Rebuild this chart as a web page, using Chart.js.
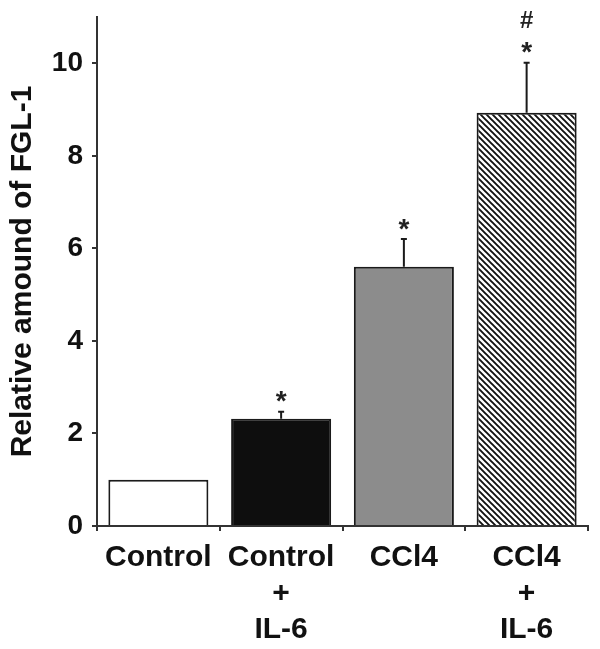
<!DOCTYPE html>
<html>
<head>
<meta charset="utf-8">
<script src="https://cdn.jsdelivr.net/npm/chart.js@4/dist/chart.umd.min.js"></script>
<style>
  html, body { margin: 0; padding: 0; background: #fff; }
</style>
</head>
<body>
<canvas id="chart" width="600" height="649"></canvas>
<script>
/* ---- Данные графика ---- */
const CATEGORIES = [["Control"], ["Control", "+", "IL-6"], ["CCl4"], ["CCl4", "+", "IL-6"]];
const VALUES     = [1.0, 2.32, 5.6, 8.93];
const ERRORS     = [0, 0.15, 0.6, 1.08];
const STARS      = ["", "*", "*", "*"];
const HASHES     = ["", "", "", "#"];
const Y_TICKS    = [0, 2, 4, 6, 8, 10];
const Y_TITLE    = "Relative amound of FGL-1";

const FONT = "'Liberation Sans', Arial, sans-serif";
const INK  = "#1a1a1a";

// штриховка "\\\\" для последнего столбца
function hatchPattern() {
  const p = 6;
  const c = document.createElement("canvas");
  c.width = p; c.height = p;
  const g = c.getContext("2d");
  g.fillStyle = "#fff";
  g.fillRect(0, 0, p, p);
  g.strokeStyle = "#111";
  g.lineWidth = 1.9;
  g.beginPath();
  g.moveTo(-1, -1); g.lineTo(p + 1, p + 1);
  g.moveTo(-1, p - 1); g.lineTo(1, p + 1);
  g.moveTo(p - 1, -1); g.lineTo(p + 1, 1);
  g.stroke();
  return g.createPattern(c, "repeat");
}

const canvas = document.getElementById("chart");
const FILLS = ["#ffffff", "#0e0e0e", "#8c8c8c", hatchPattern()];

// метка по центру (cx, cy) по реальным границам глифа
function centeredText(ctx, txt, cx, cy) {
  const m = ctx.measureText(txt);
  ctx.fillText(txt, cx, cy + (m.actualBoundingBoxAscent - m.actualBoundingBoxDescent) / 2);
}

/* ---- Планки погрешностей и значки значимости ---- */
const errorBars = {
  id: "errorBars",
  afterDatasetsDraw(chart) {
    const ctx = chart.ctx;
    const y = chart.scales.y;
    const meta = chart.getDatasetMeta(0);
    ctx.save();
    meta.data.forEach((bar, i) => {
      const top = y.getPixelForValue(VALUES[i] + ERRORS[i]);
      if (ERRORS[i] > 0) {
        ctx.strokeStyle = INK;
        ctx.lineWidth = 2;
        ctx.beginPath();
        ctx.moveTo(bar.x, bar.y);
        ctx.lineTo(bar.x, top);
        ctx.moveTo(bar.x - 3, top);
        ctx.lineTo(bar.x + 3, top);
        ctx.stroke();
      }
      ctx.fillStyle = "#222";
      ctx.textAlign = "center";
      ctx.textBaseline = "alphabetic";
      if (STARS[i]) {
        ctx.font = "bold 28px " + FONT;
        centeredText(ctx, STARS[i], bar.x, top - 15);
      }
      if (HASHES[i]) {
        ctx.font = "bold 24px " + FONT;
        centeredText(ctx, HASHES[i], bar.x, top - 43);
      }
    });
    ctx.restore();
  }
};

new Chart(canvas, {
  type: "bar",
  data: {
    labels: CATEGORIES,
    datasets: [{
      data: VALUES,
      backgroundColor: FILLS,
      borderColor: INK,
      borderWidth: 2,
      borderSkipped: "start",
      barPercentage: 0.815,
      categoryPercentage: 1
    }]
  },
  options: {
    responsive: false,
    animation: false,
    layout: { padding: { top: 17, right: 12, left: 0, bottom: 0 } },
    plugins: { legend: { display: false }, tooltip: { enabled: false } },
    scales: {
      x: {
        grid: { drawOnChartArea: false, drawTicks: true, tickLength: 5, offset: true, color: "#333", lineWidth: 2 },
        border: { color: "#333", width: 2 },
        ticks: {
          color: "#111", padding: 9, maxRotation: 0, autoSkip: false,
          font: { family: FONT, size: 30, weight: "bold", lineHeight: 1.2 }
        },
        afterFit(s) { s.height = 123; s.paddingLeft = 0; s.paddingRight = 0; }
      },
      y: {
        min: 0, max: 11,
        afterBuildTicks(s) { s.ticks = Y_TICKS.map(v => ({ value: v })); },
        grid: { drawOnChartArea: false, tickLength: 5, color: "#333", lineWidth: 2 },
        border: { color: "#333", width: 2 },
        ticks: { color: "#111", padding: 9, font: { family: FONT, size: 28, weight: "bold" } },
        title: {
          display: true, text: Y_TITLE, color: "#111",
          padding: { top: 5, bottom: 0 },
          font: { family: FONT, size: 30, weight: "bold", lineHeight: 1.2 }
        },
        afterFit(s) { s.width = 97; s.paddingTop = 0; s.paddingBottom = 0; }
      }
    }
  },
  plugins: [errorBars]
});
</script>
</body>
</html>
